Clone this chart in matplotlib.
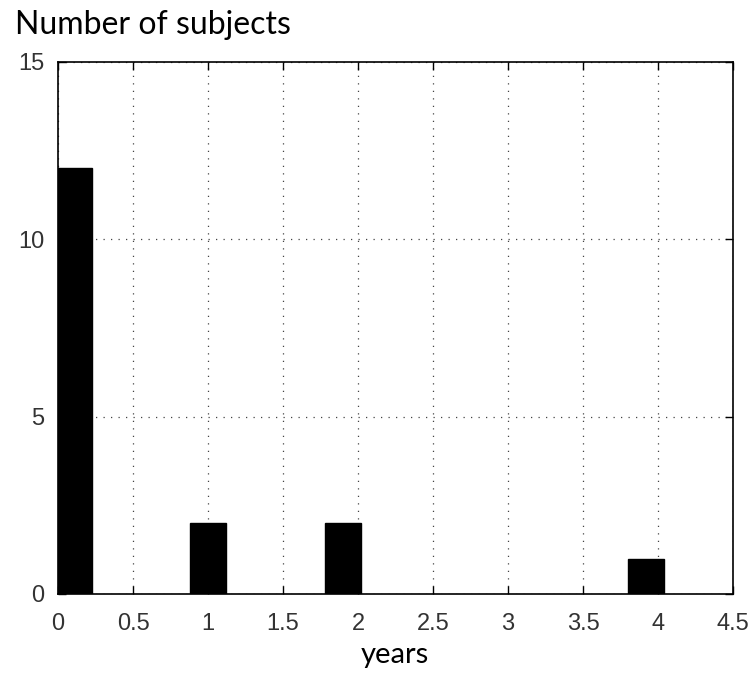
import numpy as np
import matplotlib.pyplot as plt

# histogram bins (bar centres in years) and counts
years = [0.11, 1.0, 1.9, 3.92]
subjects = [12, 2, 2, 1]
xticks = [0, 0.5, 1, 1.5, 2, 2.5, 3, 3.5, 4, 4.5]
yticks = [0, 5, 10, 15]

fig = plt.figure(figsize=(7.54, 6.75), dpi=100)
ax = fig.add_axes([58 / 754, 1 - 594 / 675, 675 / 754, 532 / 675])

ax.bar(years, subjects, width=0.235, color='black', edgecolor='black', zorder=3)

ax.set_xlim(0, 4.5)
ax.set_ylim(0, 15)
ax.set_xticks(xticks)
ax.set_xticklabels([f'{t:g}' for t in xticks])
ax.set_yticks(yticks)

ax.grid(True, linestyle=(0, (1, 5)), color='#444444', linewidth=0.9, zorder=1)
ax.tick_params(direction='in', top=True, right=True, length=6, width=1,
               labelsize=17, pad=10)
ax.tick_params(axis='x', pad=14)
for lab in ax.get_xticklabels() + ax.get_yticklabels():
    lab.set_fontfamily('Liberation Sans')
    lab.set_color('#333333')
for sp in ax.spines.values():
    sp.set_linewidth(1.2)

fig.text(15 / 754, 1 - 10 / 675, 'Number of subjects', fontsize=23,
         family='Lato', va='top', ha='left')
fig.text(395 / 754, 1 - 663 / 675, 'years', fontsize=21,
         family='Lato', va='baseline', ha='center')

plt.savefig('out.png', dpi=100)
